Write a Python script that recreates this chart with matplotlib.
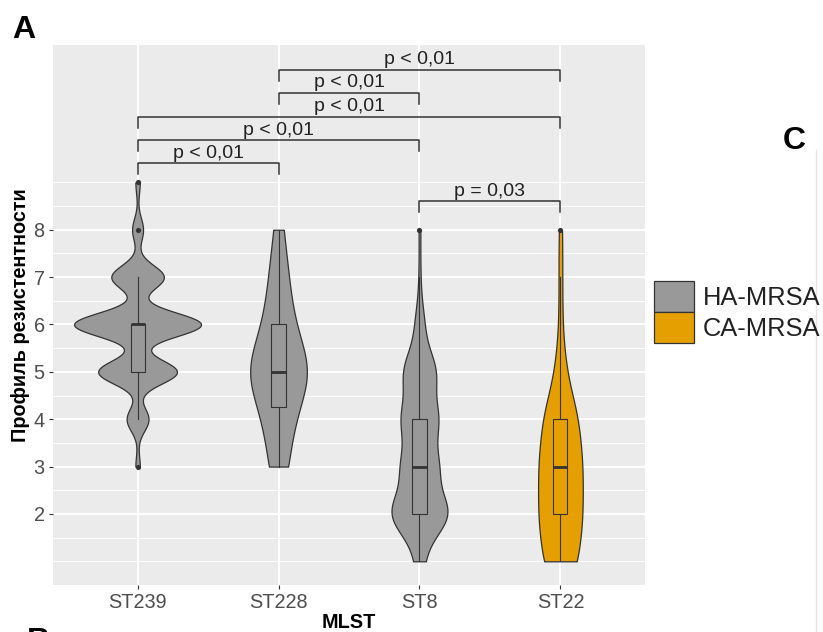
import numpy as np
import matplotlib
matplotlib.use("Agg")
import matplotlib.pyplot as plt
from matplotlib.patches import Rectangle, Patch
from matplotlib.lines import Line2D

plt.rcParams['font.family'] = ['Liberation Sans', 'DejaVu Sans']

# resistance profile values and how many isolates of each group have them
values = [1, 2, 3, 4, 5, 6, 7, 8, 9]
st239_counts = [0, 0, 2, 10, 36, 58, 24, 5, 2]
st228_counts = [0, 0, 2, 3, 7, 3, 2, 1, 0]
st8_counts = [10, 64, 40, 40, 36, 10, 2, 2, 0]
st22_counts = [10, 12, 12, 10, 3, 1, 1, 1, 0]

groups = ['ST239', 'ST228', 'ST8', 'ST22']
group_type = ['HA-MRSA', 'HA-MRSA', 'HA-MRSA', 'CA-MRSA']
all_counts = [st239_counts, st228_counts, st8_counts, st22_counts]

# pairwise comparisons
pairs = [('ST239', 'ST228'), ('ST239', 'ST8'), ('ST239', 'ST22'),
         ('ST228', 'ST8'), ('ST228', 'ST22'), ('ST8', 'ST22')]
p_labels = ['p < 0,01', 'p < 0,01', 'p < 0,01', 'p < 0,01', 'p < 0,01', 'p = 0,03']
bracket_y = [9.4, 9.89, 10.38, 10.89, 11.38, 8.6]

y_ticks = [2, 3, 4, 5, 6, 7, 8]
y_minor = [1, 1.5, 2.5, 3.5, 4.5, 5.5, 6.5, 7.5, 8.5, 9]

colors = {'HA-MRSA': '#999999', 'CA-MRSA': '#E69F00'}
edge = '#333333'


def bw_nrd0(x):
    sd = np.std(x, ddof=1)
    q1, q3 = np.percentile(x, [25, 75])
    lo = min(sd, (q3 - q1) / 1.34)
    return 0.9 * lo * len(x) ** -0.2


fig = plt.figure(figsize=(8.23, 6.32), dpi=100)
W, H = 823, 632
ax = fig.add_axes([53 / W, 1 - 585 / H, (645 - 53) / W, (585 - 45) / H])
ax.set_facecolor('#EBEBEB')

# densities (trimmed, gaussian, nrd0) like geom_violin
samples = [np.repeat(values, c).astype(float) for c in all_counts]
dens = []
for x in samples:
    bw = bw_nrd0(x)
    yy = np.linspace(x.min(), x.max(), 512)
    d = np.exp(-0.5 * ((yy[:, None] - x[None, :]) / bw) ** 2).sum(1)
    d /= len(x) * bw * np.sqrt(2 * np.pi)
    dens.append((yy, d))
dmax = max(d.max() for _, d in dens)

for i, (x, (yy, d)) in enumerate(zip(samples, dens)):
    pos = i + 1
    col = colors[group_type[i]]
    hw = 0.45 * d / dmax
    ax.fill_betweenx(yy, pos - hw, pos + hw, facecolor=col, edgecolor=edge,
                     lw=0.9, zorder=2)
    q1, med, q3 = np.percentile(x, [25, 50, 75])
    iqr = q3 - q1
    lo_w = x[x >= q1 - 1.5 * iqr].min()
    hi_w = x[x <= q3 + 1.5 * iqr].max()
    ax.plot([pos, pos], [lo_w, q1], color=edge, lw=0.8, zorder=3)
    ax.plot([pos, pos], [q3, hi_w], color=edge, lw=0.8, zorder=3)
    ax.add_patch(Rectangle((pos - 0.05, q1), 0.1, q3 - q1, facecolor=col,
                           edgecolor=edge, lw=0.8, zorder=3))
    ax.plot([pos - 0.05, pos + 0.05], [med, med], color=edge, lw=2, zorder=4,
            solid_capstyle='butt')
    outl = np.unique(x[(x < lo_w) | (x > hi_w)])
    ax.scatter(np.full(len(outl), pos), outl, s=14, color=edge, zorder=5,
               linewidths=0)

# significance brackets
tip = 0.23
for (g1, g2), lab, yb in zip(pairs, p_labels, bracket_y):
    x1 = groups.index(g1) + 1
    x2 = groups.index(g2) + 1
    ax.plot([x1, x1, x2, x2], [yb - tip, yb, yb, yb - tip], color=edge,
            lw=1.1, zorder=4)
    ax.text((x1 + x2) / 2, yb + 0.12, lab, ha='center', va='baseline',
            fontsize=14, color='#222222', zorder=5)

ax.set_xlim(0.4, 4.6)
ax.set_ylim(0.5, 11.9)
ax.set_xticks(range(1, len(groups) + 1))
ax.set_xticklabels(groups)
ax.set_yticks(y_ticks)
ax.set_yticks(y_minor, minor=True)
ax.grid(which='major', color='white', lw=1.4)
ax.grid(which='minor', axis='y', color='white', lw=0.7)
ax.set_axisbelow(True)
for s in ax.spines.values():
    s.set_visible(False)
ax.tick_params(which='major', length=3, width=0.8, color=edge, pad=3,
               labelsize=14.3, labelcolor='#4D4D4D')
ax.tick_params(which='minor', length=0)

ax.set_ylabel('Профиль резистентности', fontsize=14.3, fontweight='bold',
              va='center')
ax.yaxis.set_label_coords((21 - 53) / (645 - 53), 0.5)
ax.set_xlabel('MLST', fontsize=14.3, fontweight='bold', va='center')
ax.xaxis.set_label_coords(0.5, (585 - 622) / (585 - 45))

handles = [Patch(facecolor=colors[k], edgecolor=edge, lw=0.9, label=k)
           for k in ['HA-MRSA', 'CA-MRSA']]
fig.legend(handles=handles, loc='upper left',
           bbox_to_anchor=(654 / W, 1 - 281 / H), frameon=False,
           fontsize=18.4, handlelength=1.56, handleheight=1.48,
           handletextpad=0.35, labelspacing=0, borderpad=0, borderaxespad=0,
           labelcolor='#222222')

fig.text(12 / W, 1 - 15 / H, 'A', fontsize=23, fontweight='bold',
         ha='left', va='top')
fig.text(783 / W, 1 - 126 / H, 'C', fontsize=23, fontweight='bold',
         ha='left', va='top')
fig.text(27 / W, 1 - 627 / H, 'B', fontsize=23, fontweight='bold',
         ha='left', va='top')
fig.add_artist(Line2D([816 / W, 816 / W], [0, 1 - 150 / H], color='#dfe7ef',
                      lw=1))

fig.savefig('out.png', dpi=100)
